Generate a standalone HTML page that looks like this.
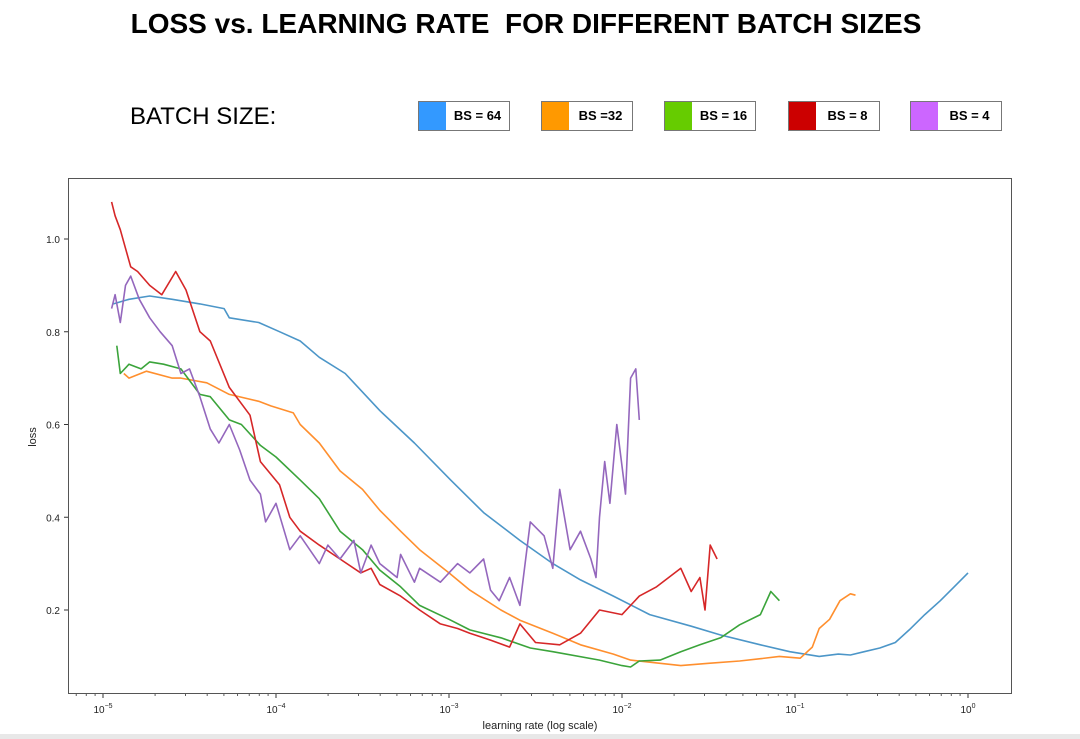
<!DOCTYPE html>
<html><head><meta charset="utf-8">
<style>
body{margin:0;background:#fff;font-family:"Liberation Sans",sans-serif;}
#wrap{position:relative;width:1080px;height:739px;overflow:hidden;background:#fff;}
.title{position:absolute;left:0;width:1052px;top:8px;text-align:center;font-weight:bold;font-size:28px;color:#000;white-space:pre;}
.bs{position:absolute;left:130px;top:103px;font-size:24px;color:#000;}
.leg{position:absolute;top:101px;width:92px;height:30px;border:1px solid #777;box-sizing:border-box;background:#fff;}
.sw{position:absolute;left:0;top:0;width:27px;height:100%;}
.lt{position:absolute;left:27px;right:0;top:0;line-height:28px;text-align:center;font-weight:bold;font-size:13px;}
.foot{position:absolute;left:0;top:734px;width:1080px;height:5px;background:#e8e8e8;}
</style></head><body>
<div id="wrap">
<div class="title">LOSS vs. LEARNING RATE  FOR DIFFERENT BATCH SIZES</div>
<div class="bs">BATCH SIZE:</div>
<div class="leg" style="left:418px"><div class="sw" style="background:#3399ff"></div><div class="lt">BS = 64</div></div>
<div class="leg" style="left:541px"><div class="sw" style="background:#ff9900"></div><div class="lt">BS =32</div></div>
<div class="leg" style="left:664px"><div class="sw" style="background:#66cc00"></div><div class="lt">BS = 16</div></div>
<div class="leg" style="left:788px"><div class="sw" style="background:#cc0000"></div><div class="lt">BS = 8</div></div>
<div class="leg" style="left:910px"><div class="sw" style="background:#cc66ff"></div><div class="lt">BS = 4</div></div>
<svg id="chart" width="1080" height="739" style="position:absolute;left:0;top:0"></svg>
<div class="foot"></div>
</div>
<script>
const xTickExps=[-5,-4,-3,-2,-1,0];
const yTicks=[0.2,0.4,0.6,0.8,1.0];
const bs64Lr=[-4.94,-4.85,-4.73,-4.6,-4.44,-4.3,-4.27,-4.1,-3.98,-3.86,-3.75,-3.6,-3.4,-3.2,-2.99,-2.8,-2.59,-2.4,-2.24,-2.05,-1.84,-1.6,-1.43,-1.2,-1.03,-0.86,-0.75,-0.68,-0.6,-0.51,-0.42,-0.34,-0.25,-0.16,-0.08,0];
const bs64Loss=[0.86,0.87,0.877,0.87,0.86,0.85,0.83,0.82,0.80,0.78,0.745,0.71,0.63,0.56,0.48,0.41,0.35,0.30,0.265,0.23,0.19,0.165,0.146,0.125,0.11,0.10,0.105,0.103,0.11,0.118,0.13,0.157,0.19,0.22,0.25,0.28];
const bs32Lr=[-4.88,-4.85,-4.75,-4.6,-4.55,-4.4,-4.27,-4.1,-4.03,-3.9,-3.86,-3.75,-3.63,-3.5,-3.4,-3.28,-3.17,-3.0,-2.88,-2.7,-2.59,-2.4,-2.24,-2.05,-1.95,-1.78,-1.66,-1.5,-1.32,-1.2,-1.09,-0.97,-0.9,-0.86,-0.8,-0.74,-0.68,-0.65];
const bs32Loss=[0.71,0.70,0.715,0.70,0.70,0.69,0.665,0.65,0.64,0.625,0.60,0.56,0.50,0.46,0.415,0.37,0.33,0.28,0.243,0.20,0.178,0.15,0.125,0.105,0.092,0.085,0.08,0.085,0.09,0.095,0.10,0.096,0.12,0.16,0.18,0.22,0.235,0.232];
const bs16Lr=[-4.92,-4.9,-4.85,-4.78,-4.73,-4.65,-4.55,-4.44,-4.38,-4.27,-4.2,-4.09,-4.0,-3.86,-3.75,-3.63,-3.5,-3.4,-3.28,-3.17,-3.0,-2.88,-2.7,-2.53,-2.4,-2.13,-2.0,-1.95,-1.9,-1.78,-1.66,-1.55,-1.43,-1.32,-1.2,-1.14,-1.09];
const bs16Loss=[0.77,0.71,0.73,0.72,0.735,0.73,0.72,0.665,0.66,0.61,0.60,0.555,0.53,0.48,0.44,0.37,0.33,0.286,0.25,0.21,0.18,0.157,0.14,0.118,0.11,0.092,0.08,0.077,0.09,0.092,0.11,0.125,0.14,0.168,0.19,0.24,0.22];
const bs8Lr=[-4.95,-4.93,-4.9,-4.87,-4.84,-4.8,-4.73,-4.66,-4.58,-4.52,-4.44,-4.38,-4.27,-4.15,-4.09,-3.98,-3.92,-3.86,-3.75,-3.63,-3.51,-3.45,-3.4,-3.28,-3.17,-3.05,-2.95,-2.88,-2.76,-2.65,-2.59,-2.5,-2.36,-2.24,-2.13,-2.0,-1.9,-1.8,-1.66,-1.6,-1.55,-1.52,-1.49,-1.45];
const bs8Loss=[1.08,1.05,1.02,0.98,0.94,0.93,0.90,0.88,0.93,0.89,0.80,0.78,0.68,0.62,0.52,0.47,0.40,0.37,0.34,0.31,0.28,0.29,0.255,0.23,0.20,0.17,0.16,0.15,0.135,0.12,0.17,0.13,0.125,0.15,0.20,0.19,0.23,0.25,0.29,0.24,0.27,0.20,0.34,0.31];
const bs4Lr=[-4.95,-4.93,-4.9,-4.87,-4.84,-4.79,-4.73,-4.67,-4.6,-4.55,-4.5,-4.44,-4.38,-4.33,-4.27,-4.21,-4.15,-4.09,-4.06,-4.0,-3.92,-3.86,-3.75,-3.7,-3.63,-3.55,-3.51,-3.45,-3.4,-3.3,-3.28,-3.2,-3.17,-3.05,-2.95,-2.88,-2.8,-2.76,-2.71,-2.65,-2.59,-2.53,-2.45,-2.4,-2.36,-2.3,-2.24,-2.18,-2.15,-2.13,-2.1,-2.07,-2.03,-1.98,-1.95,-1.92,-1.9];
const bs4Loss=[0.85,0.88,0.82,0.90,0.92,0.87,0.83,0.80,0.77,0.71,0.72,0.66,0.59,0.56,0.60,0.545,0.48,0.45,0.39,0.43,0.33,0.36,0.30,0.34,0.31,0.35,0.28,0.34,0.30,0.27,0.32,0.26,0.29,0.26,0.30,0.28,0.31,0.243,0.22,0.27,0.21,0.39,0.36,0.29,0.46,0.33,0.37,0.31,0.27,0.40,0.52,0.43,0.60,0.45,0.70,0.72,0.61];
const seriesList=[
 {name:'bs-64',lr:bs64Lr,loss:bs64Loss,color:'#4c96c8'},
 {name:'bs-32',lr:bs32Lr,loss:bs32Loss,color:'#ff8f2e'},
 {name:'bs-16',lr:bs16Lr,loss:bs16Loss,color:'#3ba43b'},
 {name:'bs-8',lr:bs8Lr,loss:bs8Loss,color:'#d62728'},
 {name:'bs-4',lr:bs4Lr,loss:bs4Loss,color:'#9467bd'}];
const X0=103,DEC=173,Y02=610,YS=463.75;
function xS(e){return X0+(e+5)*DEC;}
function yS(v){return Y02-(v-0.2)*YS;}
const NS='http://www.w3.org/2000/svg';
const svg=document.getElementById('chart');
function mk(t,a){const e=document.createElementNS(NS,t);for(const k in a)e.setAttribute(k,a[k]);svg.appendChild(e);return e;}
const frame=mk('rect',{x:68.5,y:178.5,width:943,height:515,fill:'none',stroke:'#555','stroke-width':1});


for(let d=-6;d<=0;d++){for(let m=2;m<=9;m++){const e=d+Math.log10(m);const x=xS(e);if(x<69||x>1011)continue;
 const t=mk('line',{x1:x,x2:x,y1:694,y2:696,stroke:'#333','stroke-width':0.8});
 
 }}
xTickExps.forEach(e=>{const x=xS(e);
 const t=mk('line',{x1:x,x2:x,y1:694,y2:698,stroke:'#333','stroke-width':1});
 
 
 const tx=mk('text',{x:x,y:713,'text-anchor':'middle','font-size':10,fill:'#222','font-family':'Liberation Sans, sans-serif'});
 
 
 tx.innerHTML='10<tspan dy="-5" font-size="7">'+(e<0?'\u2212'+(-e):'0')+'</tspan>';});
yTicks.forEach(v=>{const y=yS(v);
 const t=mk('line',{x1:64,x2:68,y1:y,y2:y,stroke:'#333','stroke-width':1});
 
 
 const tx=mk('text',{x:60,y:y+4,'text-anchor':'end','font-size':10,fill:'#222','font-family':'Liberation Sans, sans-serif'});
 
 
 tx.textContent=v.toFixed(1);});
const xl=mk('text',{x:540,y:729,'text-anchor':'middle','font-size':11,fill:'#222','font-family':'Liberation Sans, sans-serif'});


xl.textContent='learning rate (log scale)';
const yl=mk('text',{x:36,y:437,'text-anchor':'middle','font-size':11,fill:'#222','font-family':'Liberation Sans, sans-serif',transform:'rotate(-90 36 437)'});


yl.textContent='loss';
seriesList.forEach(s=>{
 const pts=s.lr.map((e,i)=>xS(e).toFixed(1)+','+yS(s.loss[i]).toFixed(1)).join(' ');
 const p=mk('polyline',{points:pts,fill:'none',stroke:s.color,'stroke-width':1.6,'stroke-linejoin':'round'});
 
 });
</script>
</body></html>
